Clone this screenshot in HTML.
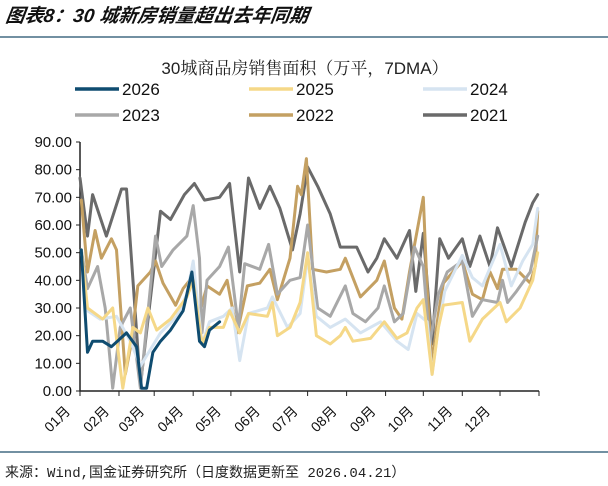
<!DOCTYPE html>
<html><head><meta charset="utf-8">
<style>
body{margin:0;width:608px;height:486px;background:#fff;overflow:hidden;font-family:"Liberation Sans","Noto Sans CJK SC",sans-serif;}
svg{position:absolute;left:0;top:0}
</style></head>
<body>
<svg width="608" height="486" id="svg">
<text x="5" y="22" font-size="19" font-weight="bold" font-style="italic" font-family="'Liberation Sans','Noto Sans CJK SC',sans-serif" fill="#111" transform="skewX(-8) translate(3,0)">图表8：30 城新房销量超出去年同期</text>
<line x1="0" y1="37" x2="608" y2="37" stroke="#1e4d6b" stroke-width="1.2"/>
<text x="305" y="74" font-size="17" text-anchor="middle" fill="#222" font-family="'Liberation Sans','Noto Serif CJK SC',serif">30城商品房销售面积（万平，7DMA）</text>
<g id="legend"></g>
<g id="grid"></g>
<g id="plot"></g>
<line x1="0" y1="452" x2="608" y2="452" stroke="#1e4d6b" stroke-width="1.2"/>
<text x="5" y="477" font-size="14" fill="#222" font-family="'Liberation Mono','Noto Sans CJK SC',monospace">来源：Wind,国金证券研究所（日度数据更新至 2026.04.21）</text>
</svg>
<script>
const yTicks=["0.00","10.00","20.00","30.00","40.00","50.00","60.00","70.00","80.00","90.00"];
const monthLabels=["01月","02月","03月","04月","05月","06月","07月","08月","09月","10月","11月","12月"];
const seriesNames=["2021","2022","2023","2024","2025","2026"];
const days2021=[0,6,10,21,33,37,48,64,72,83,91,99,111,119,127,134,143,151,159,169,175,181,189,199,207,220,229,236,242,252,262,267,273,280,286,293,304,310,318,326,332,343,354,360,364];
const vals2021=[77,56,71,56,73,73,2,65,62,71,75,69,70,75,43,77,66,74,66,51,64,81,74,64,52,52,43,48,55,48,58,36,57,17,55,48,55,45,56,45,59,45,61,68,71];
const days2022=[1,6,12,17,25,29,36,41,46,56,60,66,76,82,89,95,101,111,117,125,133,143,151,157,167,173,176,180,185,196,207,211,223,236,242,250,256,262,273,276,280,285,289,304,312,320,326,332,336,347,358,362,364];
const vals2022=[69,43,58,48,55,51,6,18,38,43,47,39,31,37,41,28,38,35,40,21,38,39,44,33,48,74,71,84,44,43,44,48,34,40,47,30,26,43,70,37,10,28,39,47,35,33,43,37,44,44,39,45,65];
const days2023=[1,6,14,20,26,32,40,48,60,65,74,85,90,95,97,101,111,118,126,131,143,150,157,167,175,181,189,199,211,217,227,237,242,250,257,266,273,278,285,292,304,312,320,332,336,340,347,358,364];
const vals2023=[51,37,45,30,1,23,30,1,56,45,51,56,67,48,21,40,45,52,23,46,44,53,35,40,41,60,30,27,38,28,25,30,38,25,28,52,45,17,35,43,47,27,33,32,40,32,36,43,56];
const days2024=[1,6,16,29,40,48,56,64,77,85,90,97,103,114,121,127,134,149,153,165,175,181,188,199,211,223,239,252,261,268,276,280,285,290,304,312,320,334,343,352,360,364];
const vals2024=[51,29,26,27,18,9,15,21,27,35,47,17,25,27,30,11,28,30,34,23,28,48,27,23,26,21,25,18,15,28,25,6,23,36,49,41,38,53,38,47,53,66];
const days2025=[1,6,18,26,34,42,48,54,61,72,85,90,97,103,114,119,127,134,149,153,157,167,175,181,188,199,207,211,217,231,242,252,260,268,273,280,285,289,304,310,320,334,339,350,360,364];
const vals2025=[51,30,26,30,1,23,21,30,22,26,34,40,17,23,23,29,21,28,27,32,20,23,32,50,20,17,20,23,18,19,25,19,21,30,33,6,23,31,32,18,26,32,25,30,40,50];
const days2026=[1,6,10,18,25,37,45,49,53,58,64,72,82,89,95,99,103,111];
const vals2026=[51,14,18,18,16,21,16,1,1,14,18,22,29,43,18,16,22,25];
const colors={"2021":"#6a6a6a","2022":"#c4a062","2023":"#a8a8a8","2024":"#d6e4f1","2025":"#f5d888","2026":"#0f4c70"};
const NS="http://www.w3.org/2000/svg";
const X0=80,X1=539,Y0=391,Y1=142;
const xScale=d=>X0+(d/365)*(X1-X0);
const yScale=v=>Y0-(v/90)*(Y0-Y1);
function mk(tag,attrs,parent){const e=document.createElementNS(NS,tag);for(const k in attrs)e.setAttribute(k,attrs[k]);parent.appendChild(e);return e;}
const grid=document.getElementById('grid'),plot=document.getElementById('plot'),legend=document.getElementById('legend');
let ax=mk('path',{d:`M${X0},${Y1}V${Y0}H${X1}`,fill:'none',stroke:'#222','stroke-width':1.5},grid);


yTicks.forEach((t,i)=>{const y=yScale(i*10);
 let tk=mk('line',{x1:X0-4,x2:X0,y1:y,y2:y,stroke:'#222','stroke-width':1},grid);
 
 
 let tx=mk('text',{x:X0-8,y:y+5,'font-size':15,'text-anchor':'end',fill:'#111'},grid);
 tx.textContent=t;
 
 
});
const mStart=[0,31,59,90,120,151,181,212,243,273,304,334,365];
mStart.forEach((d,i)=>{const x=xScale(d);
 let tk=mk('line',{x1:x,x2:x,y1:Y0,y2:Y0+5,stroke:'#222','stroke-width':1},grid);
 
 
 if(i<12){let ax_=x-9,ay_=Y0+21;let tx=mk('text',{x:ax_,y:ay_,'font-size':14,'text-anchor':'end',fill:'#111',transform:`rotate(-45 ${ax_} ${ay_})`},grid);
 tx.textContent=monthLabels[i];
 
 }
});
const dataMap={"2021":[days2021,vals2021],"2022":[days2022,vals2022],"2023":[days2023,vals2023],"2024":[days2024,vals2024],"2025":[days2025,vals2025],"2026":[days2026,vals2026]};
seriesNames.forEach(n=>{const [ds,vs]=dataMap[n];
 const d=ds.map((dd,i)=>(i?'L':'M')+xScale(dd).toFixed(1)+','+yScale(vs[i]).toFixed(1)).join('');
 let p=mk('path',{d:d,fill:'none',stroke:colors[n],'stroke-width':3,'stroke-linejoin':'round','stroke-linecap':'round'},plot);
 
 
});
const legOrder=["2026","2025","2024","2023","2022","2021"];
legOrder.forEach((n,i)=>{const col=i%3,row=Math.floor(i/3);const lx=75+col*174,ly=89+row*26;
 let l=mk('line',{x1:lx,x2:lx+44,y1:ly,y2:ly,stroke:colors[n],'stroke-width':3.5},legend);
 
 
 let t=mk('text',{x:lx+47,y:ly+6,'font-size':17,fill:'#111'},legend);
 t.textContent=n;
 
 
});
</script>
</body></html>
